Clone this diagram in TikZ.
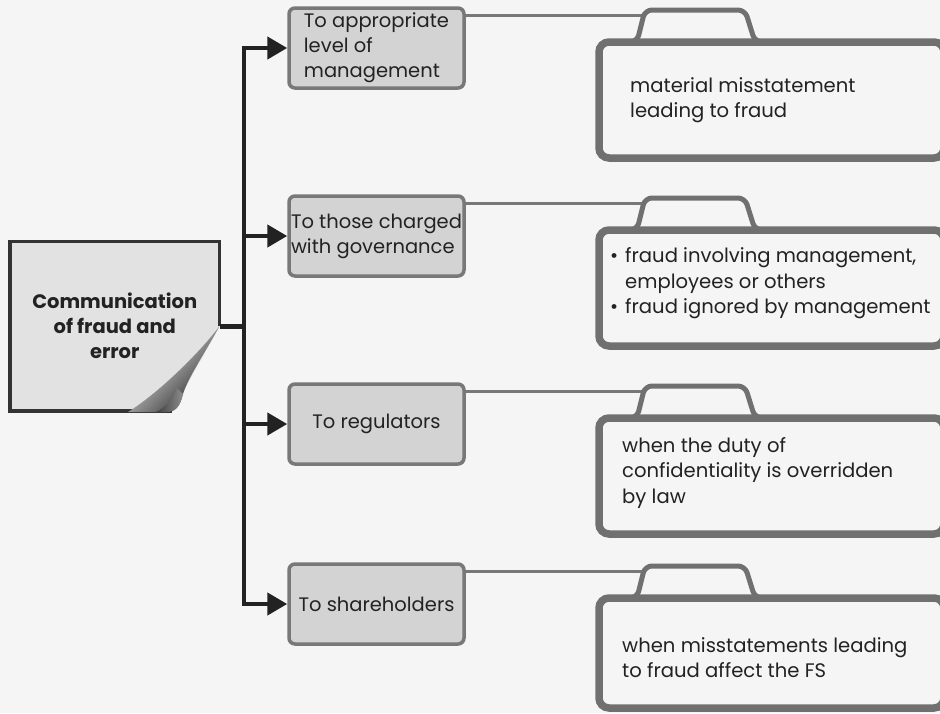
\documentclass[tikz,border=0pt]{standalone}
\usepackage{fontspec}
\setmainfont{Poppins}
\usetikzlibrary{positioning,arrows.meta,backgrounds}

\definecolor{paper}{HTML}{F5F5F5}
\definecolor{ink}{HTML}{222222}
\definecolor{boxfill}{HTML}{D3D3D3}
\definecolor{boxline}{HTML}{787878}
\definecolor{foldline}{HTML}{707070}
\definecolor{pagefill}{HTML}{E2E2E2}
\definecolor{pageline}{HTML}{333333}

\newcommand\headfont{\fontsize{19.5}{25}\selectfont\bfseries}
\newcommand\boxfont{\fontsize{19.5}{25}\selectfont}
\newcommand\notefont{\fontsize{19.6}{25.5}\selectfont}

\begin{document}
\begin{tikzpicture}[x=1pt,y=-1pt,
    every node/.style={text=ink},
    hubline/.style={draw=ink, line width=4.5pt},
    arrow/.style={hubline, -{Triangle[length=20pt,width=22pt]}},
    tobox/.style={draw=boxline, fill=boxfill, line width=3.5pt, rounded corners=6pt,
      minimum width=175pt, minimum height=80pt, inner sep=1pt, align=left, font=\boxfont},
    folder/.style={draw=foldline, line width=7.5pt, rounded corners=10pt, outer sep=0pt,
      minimum width=345pt, minimum height=116pt},
    foldtab/.style={draw=foldline, line width=5pt, rounded corners=7pt},
    link/.style={draw=boxline, line width=3.5pt},
    note/.style={align=left, font=\notefont, inner sep=0pt}]
  \useasboundingbox (0,0) rectangle (940,713);

  \node[minimum width=209.5pt, minimum height=169.5pt, outer sep=0pt,
    align=center, font=\headfont] (main) at (114.75,326.25)
    {Communication\\of fraud and\\error};
  \coordinate (hub) at ([xshift=24.5pt]main.east);

  \node[tobox] (m1) at (376.5,48) {To appropriate\\level of\\management};
  \node[tobox] (m2) at (376.5,236) {To those charged\\with governance};
  \node[tobox] (m3) at (376.5,424) {To regulators};
  \node[tobox] (m4) at (376.5,604) {To shareholders};

  \node[folder] (f1) at (771.5,100) {};
  \node[folder] (f2) at (771.5,288) {};
  \node[folder] (f3) at (771.5,476) {};
  \node[folder, minimum height=110pt] (f4) at (771.5,653) {};

  \node[note, right=31pt of f1.west] (n1) {material misstatement\\leading to fraud};
  \node[note, right=11pt of f2.west, yshift=4.5pt] (n2)
    {\makebox[15pt][l]{\textbullet}fraud involving management,\\
     \hspace*{15pt}employees or others\\
     \makebox[15pt][l]{\textbullet}fraud ignored by management};
  \node[note, right=23pt of f3.west, yshift=3pt] (n3)
    {when the duty of\\confidentiality is overridden\\by law};
  \node[note, right=23pt of f4.west, yshift=-4.5pt] (n4)
    {when misstatements leading\\to fraud affect the FS};

  % tree from the page to the four boxes
  \draw[hubline] (main.east) -- (hub);
  \foreach \i in {1,...,4}
    \draw[arrow] (hub) |- (m\i.west);

  % boxes to folder tabs
  \foreach \i in {1,...,4} {
    \coordinate (t\i) at ([xshift=46pt, yshift=32pt]f\i.north west);
    \draw[link] ([yshift=-9pt]m\i.north east) -- ([yshift=-9pt]m\i.north east -| t\i);
    \draw[foldtab] ([xshift=28pt]f\i.north west) -- ([xshift=38pt]f\i.north west)
      -- (t\i) -- ++(100,0) -- ++(10,32) -- ++(10,0);
  }

  \begin{pgfonlayer}{background}
    \fill[paper] (0,0) rectangle (940,713);
    \fill[pagefill] (main.east) -- (main.north east) -- (main.north west)
      -- (main.south west) -- ([xshift=-47pt]main.south east) -- cycle;
    \draw[pageline, line width=3.5pt] (main.east) -- (main.north east)
      -- (main.north west) -- (main.south west) -- ([xshift=-48pt]main.south east);
    % curled corner
    \shade[top color=white, middle color=gray!55, bottom color=black!85, shading angle=45]
      (main.east) .. controls (203,356) and (188,378) .. (183,394)
      .. controls (180,406) and (176,412) .. (166,412)
      -- (128,412) .. controls (160,392) and (200,352) .. (main.east);
    \shade[left color=black!75, right color=black!45]
      (183,394) .. controls (180,406) and (176,412) .. (166,412)
      -- (156,412) .. controls (166,407) and (173,399) .. (177,388) -- cycle;
  \end{pgfonlayer}
\end{tikzpicture}
\end{document}
